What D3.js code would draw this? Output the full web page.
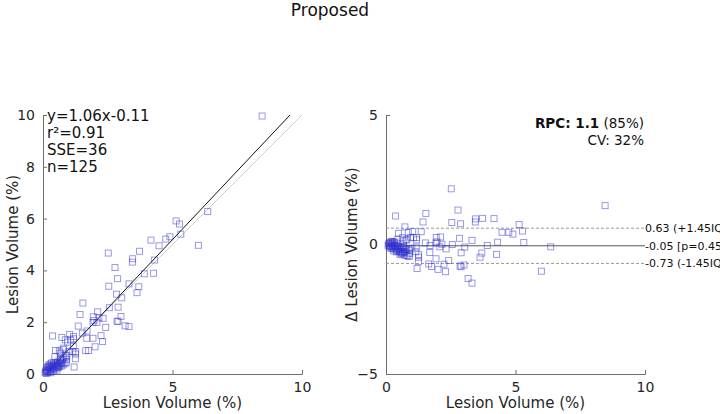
<!DOCTYPE html>
<html><head><meta charset="utf-8">
<script src="https://cdn.jsdelivr.net/npm/d3@7"></script>
<style>
html,body{margin:0;padding:0;background:#fff;}
svg{display:block;font-family:"DejaVu Sans",sans-serif;}
</style></head>
<body><svg id="c" width="720" height="414"></svg>
<script>
// ---- data ----
const refVol = [8.46,6.36,5.14,5.27,5.32,6.00,4.90,4.74,4.17,4.48,3.73,3.46,3.45,4.31,2.52,2.78,3.91,4.27,2.88,3.32,3.70,3.63,2.54,2.84,3.04,1.54,2.56,2.90,1.43,3.01,2.11,2.90,2.86,3.17,3.32,1.94,1.97,2.16,2.32,2.08,1.93,1.36,2.42,1.70,1.52,1.69,1.93,2.24,2.30,2.01,1.76,1.65,0.37,0.73,1.03,1.18,1.18,0.95,1.06,0.86,1.17,1.26,1.20,1.25,1.15,1.26,1.00,0.80,0.77,0.48,0.67,0.88,0.91,0.73,0.58,0.69,
0.08,0.10,0.12,0.14,0.15,0.17,0.18,0.20,0.20,0.22,0.23,0.25,0.25,0.27,0.28,0.30,0.30,0.32,0.33,0.35,0.36,0.38,0.40,0.40,0.42,0.43,0.45,0.46,0.48,0.50,0.52,0.54,0.55,0.57,0.58,0.60,0.62,0.63,0.64,0.66,0.68,0.70,0.72,0.75,0.78,0.80,0.85,0.90,0.92];
const propVol = [9.96,6.27,5.91,5.79,5.40,4.97,5.30,5.21,5.17,4.95,4.74,4.45,4.32,4.40,4.67,4.11,3.87,3.89,3.68,3.48,3.37,3.14,3.39,3.08,2.94,2.74,2.56,2.58,2.30,2.22,2.40,2.04,2.03,1.86,1.83,2.21,2.07,2.17,2.15,1.99,1.99,1.85,1.80,1.66,1.58,1.38,1.38,1.48,1.25,1.05,0.91,0.90,1.47,1.41,1.53,1.45,1.36,1.23,1.32,1.32,1.07,0.77,0.27,0.59,0.87,0.87,0.86,1.00,0.94,0.91,0.81,0.72,0.57,0.42,0.30,0.57,
0.05,0.12,0.02,0.18,0.08,0.25,0.12,0.30,0.05,0.20,0.35,0.15,0.28,0.10,0.38,0.22,0.05,0.30,0.42,0.18,0.32,0.25,0.45,0.12,0.35,0.20,0.28,0.67,0.40,0.22,0.33,0.15,0.45,0.28,0.38,0.25,0.50,0.89,0.32,0.40,0.62,0.30,0.45,0.55,0.35,0.62,0.40,0.45,0.70];
const fitSlope = 1.06, fitIntercept = -0.11;
const statLines = ["y=1.06x-0.11", "r²=0.91", "SSE=36", "n=125"];
const baValues = [0.63, -0.05, -0.73];
const baLabels = ["0.63 (+1.45IQR)", "-0.05 [p=0.45]", "-0.73 (-1.45IQR)"];
const leftYTicks = [0,2,4,6,8,10];
const xTicks = [0,5,10];
const rightYTicks = [-5,0,5];

// ---- layout ----
const svg = d3.select("#c");
const pTop = 115, pBottom = 374;
const L = {x0:43, x1:302}, R = {x0:386, x1:645};
const axisCol = "#6e6e6e", textCol = "#262626";
const markCol = "rgba(50,50,205,0.55)";

svg.append("text").attr("x",330).attr("y",16).attr("text-anchor","middle")
  .attr("font-size",17).attr("fill","#111").text("Proposed");

function axes(g, xs, ys, yt){
  const ax = g.append("g").attr("transform",`translate(0,${pBottom})`)
    .call(d3.axisBottom(xs).tickValues(xTicks).tickSize(-4).tickPadding(8).tickFormat(d3.format("d")));
  const ay = g.append("g").attr("transform",`translate(${xs.range()[0]},0)`)
    .call(d3.axisLeft(ys).tickValues(yt).tickSize(-4).tickPadding(8).tickFormat(d3.format("d")));
  [ax,ay].forEach(a=>{
    a.select(".domain").attr("stroke",axisCol).attr("stroke-width",1);
    a.selectAll(".tick line").attr("stroke",axisCol);
    a.selectAll(".tick text").attr("fill",textCol).attr("font-size",14).attr("font-family","DejaVu Sans");
  });
}

// ---- left: correlation ----
const xL = d3.scaleLinear().domain([0,10]).range([L.x0,L.x1]);
const yL = d3.scaleLinear().domain([0,10]).range([pBottom,pTop]);
const gL = svg.append("g");
axes(gL, xL, yL, leftYTicks);
gL.append("line").attr("x1",xL(0)).attr("y1",yL(0)).attr("x2",xL(10)).attr("y2",yL(10))
  .attr("stroke","#cfcfcf").attr("stroke-width",1);
const fx0 = -fitIntercept/fitSlope, fx1 = (10-fitIntercept)/fitSlope;
gL.append("line").attr("x1",xL(fx0)).attr("y1",yL(0)).attr("x2",xL(fx1)).attr("y2",yL(10))
  .attr("stroke","#111").attr("stroke-width",1);
gL.selectAll("rect.p").data(refVol.map((d,i)=>[d,propVol[i]])).join("rect")
  .attr("x",d=>xL(d[0])-3).attr("y",d=>yL(d[1])-3).attr("width",6).attr("height",6)
  .attr("fill","none").attr("stroke",markCol).attr("stroke-width",0.9);
gL.selectAll("text.s").data(statLines).join("text")
  .attr("x",47).attr("y",(d,i)=>pTop+6+i*17).attr("font-size",15).attr("fill","#111").text(d=>d);
gL.append("text").attr("x",xL(5)).attr("y",408).attr("text-anchor","middle")
  .attr("font-size",15).attr("fill",textCol).text("Lesion Volume (%)");
gL.append("text").attr("transform",`translate(13,${(pTop+pBottom)/2}) rotate(-90)`).attr("text-anchor","middle")
  .attr("dy","0.35em").attr("font-size",15).attr("fill",textCol).text("Lesion Volume (%)");

// ---- right: Bland-Altman ----
const xR = d3.scaleLinear().domain([0,10]).range([R.x0,R.x1]);
const yR = d3.scaleLinear().domain([-5,5]).range([pBottom,pTop]);
const gR = svg.append("g");
axes(gR, xR, yR, rightYTicks);
baValues.forEach((v,i)=>{
  gR.append("line").attr("x1",xR(0)).attr("x2",xR(10)).attr("y1",yR(v)).attr("y2",yR(v))
    .attr("stroke", i===1 ? "#555" : "#999").attr("stroke-width",1)
    .attr("stroke-dasharray", i===1 ? null : "3,2");
  gR.append("text").attr("x",xR(10)).attr("y",yR(v)).attr("dy","0.35em")
    .attr("font-size",11).attr("fill","#111").text(baLabels[i]);
});
gR.selectAll("rect.p").data(refVol.map((d,i)=>[d,propVol[i]-d])).join("rect")
  .attr("x",d=>xR(d[0])-3).attr("y",d=>yR(d[1])-3).attr("width",6).attr("height",6)
  .attr("fill","none").attr("stroke",markCol).attr("stroke-width",0.9);
const rpc = gR.append("text").attr("x",xR(10)-1).attr("y",pTop+13).attr("text-anchor","end")
  .attr("font-size",13.5).attr("fill","#111");
rpc.append("tspan").attr("font-weight","bold").text("RPC: 1.1");
rpc.append("tspan").text(" (85%)");
gR.append("text").attr("x",xR(10)-1).attr("y",pTop+30).attr("text-anchor","end")
  .attr("font-size",13.5).attr("fill","#111").text("CV: 32%");
gR.append("text").attr("x",xR(5)).attr("y",408).attr("text-anchor","middle")
  .attr("font-size",15).attr("fill",textCol).text("Lesion Volume (%)");
gR.append("text").attr("transform",`translate(352,${(pTop+pBottom)/2}) rotate(-90)`).attr("text-anchor","middle")
  .attr("dy","0.35em").attr("font-size",15).attr("fill",textCol).text("Δ Lesion Volume (%)");
</script></body></html>
